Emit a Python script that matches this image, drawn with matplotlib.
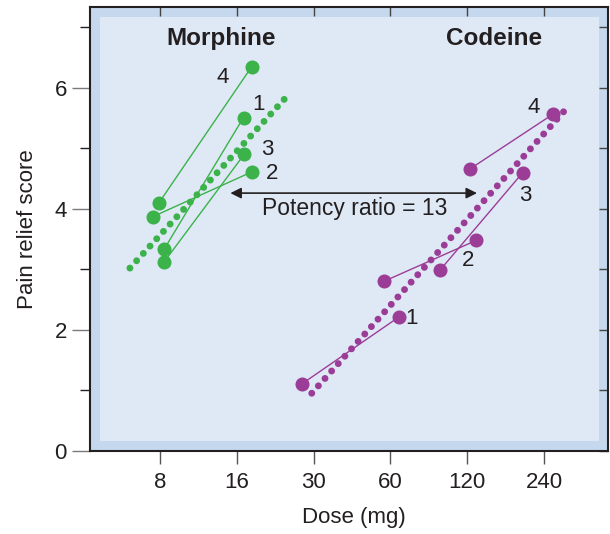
import numpy as np
import matplotlib.pyplot as plt
from matplotlib.patches import Rectangle

plt.rcParams['font.family'] = ['Liberation Sans', 'DejaVu Sans']

GREEN = '#3bb24a'
PURPLE = '#9b3d97'
INK = '#231f20'

dose_ticks = [8, 16, 30, 60, 120, 240]
patients = ['1', '2', '3', '4']

# morphine, patients 1-4: low and high dose (mg) with pain relief score
morph_low = [8.3, 7.5, 8.3, 7.9]
morph_high = [17.0, 18.3, 17.1, 18.3]
morph_low_score = [3.33, 3.87, 3.12, 4.09]
morph_high_score = [5.51, 4.61, 4.90, 6.35]
morph_fit_dose = [6.1, 24.9]
morph_fit_score = [3.02, 5.84]

# codeine, patients 1-4
cod_low = [27.1, 56.5, 94.0, 123.0]
cod_high = [64.7, 130.4, 198.0, 261.0]
cod_low_score = [1.11, 2.80, 2.99, 4.66]
cod_high_score = [2.21, 3.48, 4.60, 5.57]
cod_fit_dose = [29.5, 291.0]
cod_fit_score = [0.95, 5.64]

# arrow between the two curves
arrow_dose = [15.1, 131.0]   # morphine mg -> codeine mg
arrow_score = 4.26


# dose axis: each tick is one step, morphine 8/16 then codeine 30..240
def morph_pos(d):
    return np.log2(np.asarray(d, float) / 8)


def cod_pos(d):
    return 2 + np.log2(np.asarray(d, float) / 30)


fig = plt.figure(figsize=(6.1, 5.34), dpi=100)
ax = fig.add_axes([0.1475, 0.156, 0.849, 0.830])
ax.set_facecolor('#c5d8ee')
ax.add_patch(Rectangle((0.0193, 0.0219), 0.9633, 0.9569, transform=ax.transAxes,
                       facecolor='#dfe9f6', edgecolor='none', zorder=0.5))

dots = dict(lw=5.0, linestyle=(0, (0.001, 1.43)), dash_capstyle='round', zorder=2)
ax.plot(morph_pos(morph_fit_dose), morph_fit_score, color=GREEN, **dots)
ax.plot(cod_pos(cod_fit_dose), cod_fit_score, color=PURPLE, **dots)

morph_offsets = [(10.9, 9.6), (14.4, -0.9), (16.8, 3.8), (-20.7, -7.6)]
cod_offsets = [(9.5, -0.7), (-6.3, -14.9), (1.9, -16.3), (-14.1, 4.8)]

for lo, hi, s0, s1, lab, off in zip(morph_low, morph_high, morph_low_score,
                                    morph_high_score, patients, morph_offsets):
    xs = morph_pos([lo, hi])
    ax.plot(xs, [s0, s1], color=GREEN, lw=1.0, marker='o', ms=9.1, zorder=3)
    ax.annotate(lab, (xs[1], s1), xytext=off, textcoords='offset points',
                ha='center', va='center', fontsize=16, color=INK)

for lo, hi, s0, s1, lab, off in zip(cod_low, cod_high, cod_low_score,
                                    cod_high_score, patients, cod_offsets):
    xs = cod_pos([lo, hi])
    ax.plot(xs, [s0, s1], color=PURPLE, lw=1.0, marker='o', ms=9.1, zorder=3)
    ax.annotate(lab, (xs[1], s1), xytext=off, textcoords='offset points',
                ha='center', va='center', fontsize=16, color=INK)

ax.annotate('', xy=(cod_pos(arrow_dose[1]), arrow_score),
            xytext=(morph_pos(arrow_dose[0]), arrow_score),
            arrowprops=dict(arrowstyle='<|-|>', color=INK, lw=1.2,
                            mutation_scale=16, shrinkA=0, shrinkB=0))
ax.text(2.53, 3.90, 'Potency ratio = 13', ha='center', va='baseline',
        fontsize=16.5, color=INK)

ax.text(0.79, 6.71, 'Morphine', ha='center', va='baseline', fontsize=17.5,
        fontweight='bold', color=INK)
ax.text(4.35, 6.71, 'Codeine', ha='center', va='baseline', fontsize=17.5,
        fontweight='bold', color=INK)

ax.set_xlim(-0.911, 5.83)
ax.set_ylim(0, 7.33)
ax.set_xticks(range(len(dose_ticks)), [str(d) for d in dose_ticks])
ax.set_yticks([0, 2, 4, 6])
ax.set_yticks([1, 3, 5, 7], minor=True)
ax.tick_params(axis='x', length=9.4, width=1, color='#555555', pad=6,
               labelsize=16, labelcolor=INK)
ax.tick_params(axis='y', which='major', length=12.7, width=1, color='#7a7a7a',
               pad=4, labelsize=16, labelcolor=INK)
ax.tick_params(axis='y', which='minor', length=7.2, width=1, color=INK)

for sp in ax.spines.values():
    sp.set_linewidth(1.5)
    sp.set_color(INK)

top = ax.secondary_xaxis('top')
top.set_xticks(range(len(dose_ticks)))
top.tick_params(direction='in', length=6.7, width=1, color='#444444', labeltop=False)
right = ax.secondary_yaxis('right')
right.set_yticks(range(8))
right.tick_params(direction='in', length=6.7, width=1, color='#444444', labelright=False)
for sec in (top, right):
    for sp in sec.spines.values():
        sp.set_visible(False)

ax.set_xlabel('Dose (mg)', fontsize=16, color=INK)
ax.set_ylabel('Pain relief score', fontsize=16, color=INK)
ax.xaxis.set_label_coords(0.51, -0.128)
ax.yaxis.set_label_coords(-0.10, 0.5)

fig.savefig('out.png', dpi=100)
